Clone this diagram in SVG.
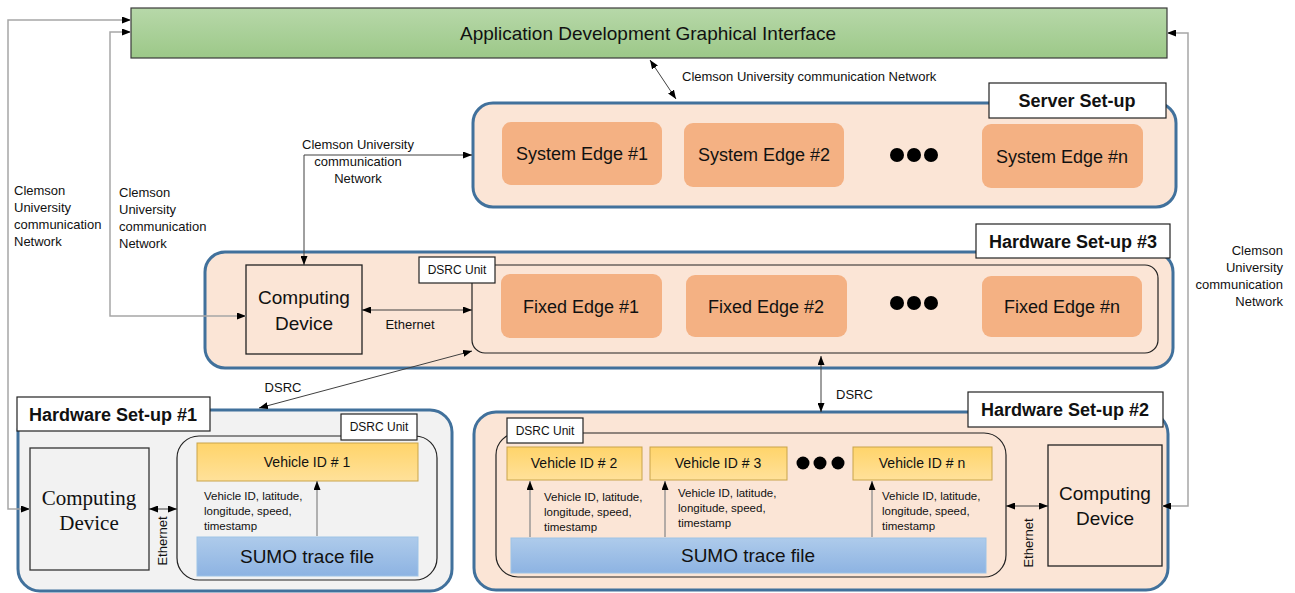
<svg xmlns="http://www.w3.org/2000/svg" width="1295" height="593" viewBox="0 0 1295 593">
<style>
text{font-family:"Liberation Sans",Arial,sans-serif;fill:#111}
.setup{fill:#FBE5D6;stroke:#41719C;stroke-width:3}
.setup1{fill:#F2F2F2;stroke:#41719C;stroke-width:3}
.edge{fill:#F4B183}
.edgetxt{font-size:18px;text-anchor:middle}
.title{fill:#fff;stroke:#222;stroke-width:1.2}
.titletxt{font-size:18px;font-weight:bold;text-anchor:middle}
.unit{fill:none;stroke:#222;stroke-width:1.2}
.unitlbl{fill:#fff;stroke:#222;stroke-width:1.2}
.unittxt{font-size:12px;text-anchor:middle}
.dev{fill:#FBE5D6;stroke:#222;stroke-width:1.3}
.devtxt{font-size:19px;text-anchor:middle}
.veh{fill:url(#gy);stroke:#C9A44A;stroke-width:1}
.vehtxt{font-size:14px;text-anchor:middle}
.sumo{fill:url(#gb);stroke:#9DC3E6;stroke-width:1}
.sumotxt{font-size:19px;text-anchor:middle}
.small{font-size:11.5px}
.net{font-size:13px}
.dot{fill:#000}
.cg{fill:none;stroke:#A6A6A6;stroke-width:1.5}
.cd{fill:none;stroke:#404040;stroke-width:1}
.ca{fill:none;stroke:#8C8C8C;stroke-width:1.3}
</style>
<defs>
<linearGradient id="gg" x1="0" y1="0" x2="0" y2="1"><stop offset="0" stop-color="#B7D8A9"/><stop offset="1" stop-color="#9CC888"/></linearGradient>
<linearGradient id="gy" x1="0" y1="0" x2="0" y2="1"><stop offset="0" stop-color="#FFD46A"/><stop offset="1" stop-color="#FFE19A"/></linearGradient>
<linearGradient id="gb" x1="0" y1="0" x2="0" y2="1"><stop offset="0" stop-color="#AECBEB"/><stop offset="1" stop-color="#8DB3E2"/></linearGradient>
<marker id="ar" markerUnits="userSpaceOnUse" markerWidth="9" markerHeight="7" refX="9" refY="3.5" orient="auto-start-reverse"><path d="M0,0 L9,3.5 L0,7 z" fill="#000"/></marker>
</defs>
<rect width="1295" height="593" fill="#fff"/>

<g id="gui">
<rect x="131" y="8" width="1036" height="50" fill="url(#gg)" stroke="#3A3A3A" stroke-width="1.2"/>
<text x="648" y="40" font-size="19" text-anchor="middle">Application Development Graphical Interface</text>
</g>

<g id="server-setup">
<rect class="setup" x="473" y="103" width="703" height="104" rx="20"/>
<rect class="title" x="989" y="83" width="177" height="35"/>
<text class="titletxt" x="1077" y="107">Server Set-up</text>
</g>
<g id="system-edge-1"><rect class="edge" x="502" y="122" width="160" height="63" rx="9"/><text class="edgetxt" x="582" y="160">System Edge #1</text></g>
<g id="system-edge-2"><rect class="edge" x="684" y="123" width="160" height="64" rx="9"/><text class="edgetxt" x="764" y="161">System Edge #2</text></g>
<g id="system-dots"><circle class="dot" cx="897" cy="155" r="7"/><circle class="dot" cx="914" cy="155" r="7"/><circle class="dot" cx="931" cy="155" r="7"/></g>
<g id="system-edge-n"><rect class="edge" x="982" y="124" width="161" height="64" rx="9"/><text class="edgetxt" x="1062" y="163">System Edge #n</text></g>

<g id="hardware-setup-3">
<rect class="setup" x="205" y="252" width="968" height="116" rx="20"/>
<rect class="title" x="976" y="224" width="194" height="34"/>
<text class="titletxt" x="1073" y="248">Hardware Set-up #3</text>
</g>
<g id="computing-device-3"><rect class="dev" x="246" y="265" width="116" height="89"/><text class="devtxt" x="304" y="304">Computing</text><text class="devtxt" x="304" y="330">Device</text></g>
<g id="dsrc-unit-3">
<rect class="unit" x="472" y="265" width="686" height="88" rx="13"/>
<rect class="unitlbl" x="419" y="257" width="76" height="26"/>
<text class="unittxt" x="457" y="274">DSRC Unit</text>
</g>
<g id="fixed-edge-1"><rect class="edge" x="501" y="274" width="161" height="64" rx="9"/><text class="edgetxt" x="581" y="313">Fixed Edge #1</text></g>
<g id="fixed-edge-2"><rect class="edge" x="686" y="275" width="161" height="62" rx="9"/><text class="edgetxt" x="766" y="313">Fixed Edge #2</text></g>
<g id="fixed-dots"><circle class="dot" cx="897" cy="303" r="7"/><circle class="dot" cx="914" cy="303" r="7"/><circle class="dot" cx="931" cy="303" r="7"/></g>
<g id="fixed-edge-n"><rect class="edge" x="982" y="276" width="160" height="61" rx="9"/><text class="edgetxt" x="1062" y="313">Fixed Edge #n</text></g>

<g id="hardware-setup-1">
<rect class="setup1" x="18" y="410" width="434" height="181" rx="22"/>
<rect class="title" x="17" y="397" width="193" height="34"/>
<text class="titletxt" x="113" y="421">Hardware Set-up #1</text>
</g>
<g id="computing-device-1"><rect x="30" y="448" width="119" height="122" fill="#F2F2F2" stroke="#333" stroke-width="1.3"/><text x="89" y="505" font-size="21" text-anchor="middle" style="font-family:'Liberation Serif','Times New Roman',serif">Computing</text><text x="89" y="530" font-size="21" text-anchor="middle" style="font-family:'Liberation Serif','Times New Roman',serif">Device</text></g>
<g id="dsrc-unit-1">
<rect class="unit" x="177" y="436" width="260" height="144" rx="22"/>
<rect class="unitlbl" x="341" y="414" width="76" height="26"/>
<text class="unittxt" x="379" y="431">DSRC Unit</text>
</g>
<g id="vehicle-1"><rect class="veh" x="197" y="443" width="221" height="38"/><text class="vehtxt" x="307" y="467">Vehicle ID # 1</text></g>
<g id="sumo-1"><rect class="sumo" x="197" y="537" width="221" height="39"/><text class="sumotxt" x="307" y="563">SUMO trace file</text></g>
<text class="small" x="204" y="500">Vehicle ID, latitude,</text>
<text class="small" x="204" y="515">longitude, speed,</text>
<text class="small" x="204" y="530">timestamp</text>

<g id="hardware-setup-2">
<rect class="setup" x="474" y="412" width="694" height="178" rx="22"/>
<rect class="title" x="968" y="392" width="195" height="35"/>
<text class="titletxt" x="1065" y="416">Hardware Set-up #2</text>
</g>
<g id="dsrc-unit-2">
<rect class="unit" x="496" y="433" width="510" height="144" rx="22"/>
<rect class="unitlbl" x="507" y="418" width="76" height="25"/>
<text class="unittxt" x="545" y="435">DSRC Unit</text>
</g>
<g id="vehicle-2"><rect class="veh" x="507" y="447" width="135" height="33"/><text class="vehtxt" x="574" y="468">Vehicle ID # 2</text></g>
<g id="vehicle-3"><rect class="veh" x="650" y="447" width="137" height="33"/><text class="vehtxt" x="718" y="468">Vehicle ID # 3</text></g>
<g id="vehicle-dots"><circle class="dot" cx="803" cy="463" r="6.5"/><circle class="dot" cx="820" cy="463" r="6.5"/><circle class="dot" cx="838" cy="463" r="6.5"/></g>
<g id="vehicle-n"><rect class="veh" x="853" y="447" width="139" height="33"/><text class="vehtxt" x="922" y="468">Vehicle ID # n</text></g>
<g id="sumo-2"><rect class="sumo" x="511" y="538" width="475" height="35"/><text class="sumotxt" x="748" y="562">SUMO trace file</text></g>
<g id="computing-device-2"><rect class="dev" x="1048" y="445" width="114" height="121"/><text class="devtxt" x="1105" y="500">Computing</text><text class="devtxt" x="1105" y="525">Device</text></g>
<text class="small" x="544" y="501">Vehicle ID, latitude,</text>
<text class="small" x="544" y="516">longitude, speed,</text>
<text class="small" x="544" y="531">timestamp</text>
<text class="small" x="678" y="497">Vehicle ID, latitude,</text>
<text class="small" x="678" y="512">longitude, speed,</text>
<text class="small" x="678" y="527">timestamp</text>
<text class="small" x="882" y="500">Vehicle ID, latitude,</text>
<text class="small" x="882" y="515">longitude, speed,</text>
<text class="small" x="882" y="530">timestamp</text>

<g id="connectors">
<polyline class="cg" points="30,509 8,509 8,20 131,20" marker-start="url(#ar)" marker-end="url(#ar)"/>
<polyline class="cg" points="246,316 110,316 110,32 131,32" marker-start="url(#ar)" marker-end="url(#ar)"/>
<polyline class="cg" points="1162,506 1188,506 1188,33 1167,33" marker-start="url(#ar)" marker-end="url(#ar)"/>
<line class="cd" x1="650" y1="60" x2="676" y2="99" marker-start="url(#ar)" marker-end="url(#ar)"/>
<polyline class="cd" points="304,265 304,155 472,155" marker-start="url(#ar)" marker-end="url(#ar)"/>
<line class="cd" x1="362" y1="310" x2="472" y2="310" marker-start="url(#ar)" marker-end="url(#ar)"/>
<line class="cd" x1="472" y1="351" x2="259" y2="408" marker-start="url(#ar)" marker-end="url(#ar)"/>
<line class="cd" x1="821" y1="356" x2="821" y2="412" marker-start="url(#ar)" marker-end="url(#ar)"/>
<line class="cd" x1="149" y1="509" x2="177" y2="509" marker-start="url(#ar)" marker-end="url(#ar)"/>
<line class="cd" x1="1006" y1="506" x2="1048" y2="506" marker-start="url(#ar)" marker-end="url(#ar)"/>
<line class="ca" x1="317" y1="536" x2="317" y2="481" marker-end="url(#ar)"/>
<line class="ca" x1="530" y1="537" x2="530" y2="481" marker-end="url(#ar)"/>
<line class="ca" x1="665" y1="537" x2="665" y2="481" marker-end="url(#ar)"/>
<line class="ca" x1="872" y1="537" x2="872" y2="481" marker-end="url(#ar)"/>
</g>

<g id="labels">
<text class="net" x="682" y="81">Clemson University communication Network</text>
<text class="net" x="358" y="149" text-anchor="middle">Clemson University</text>
<text class="net" x="358" y="166" text-anchor="middle">communication</text>
<text class="net" x="358" y="183" text-anchor="middle">Network</text>
<text class="net" x="14" y="195">Clemson</text>
<text class="net" x="14" y="212">University</text>
<text class="net" x="14" y="229">communication</text>
<text class="net" x="14" y="246">Network</text>
<text class="net" x="119" y="197">Clemson</text>
<text class="net" x="119" y="214">University</text>
<text class="net" x="119" y="231">communication</text>
<text class="net" x="119" y="248">Network</text>
<text class="net" x="1283" y="255" text-anchor="end">Clemson</text>
<text class="net" x="1283" y="272" text-anchor="end">University</text>
<text class="net" x="1283" y="289" text-anchor="end">communication</text>
<text class="net" x="1283" y="306" text-anchor="end">Network</text>
<text class="net" x="410" y="329" text-anchor="middle">Ethernet</text>
<text class="net" x="283" y="392" text-anchor="middle">DSRC</text>
<text class="net" x="836" y="399">DSRC</text>
<text class="net" transform="translate(167,541) rotate(-90)" text-anchor="middle">Ethernet</text>
<text class="net" transform="translate(1033,543) rotate(-90)" text-anchor="middle">Ethernet</text>
</g>
</svg>
